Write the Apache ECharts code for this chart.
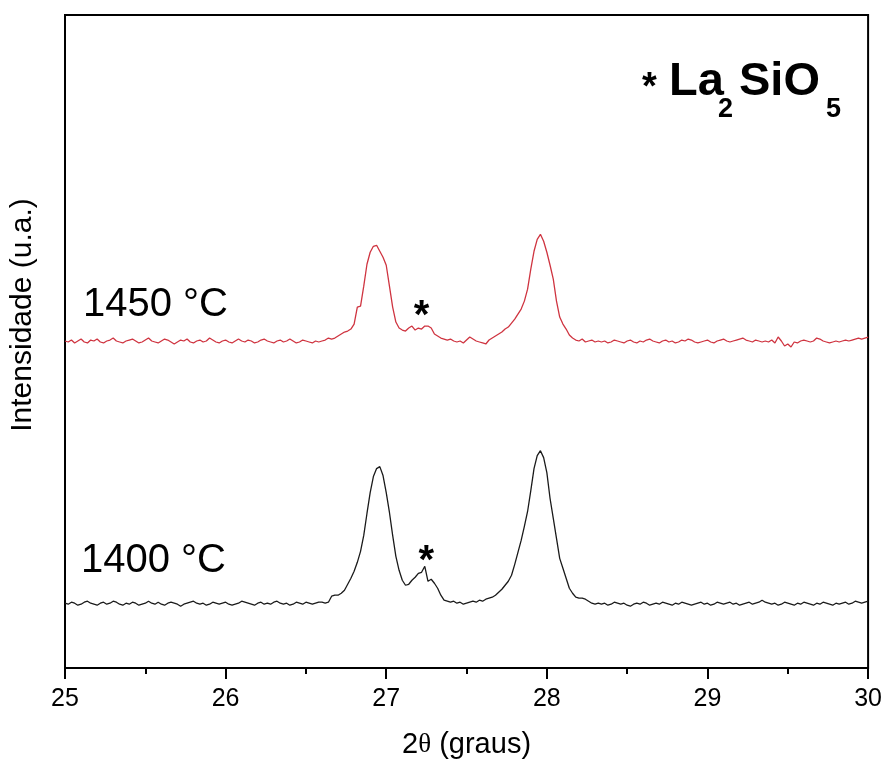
<!DOCTYPE html>
<html>
<head>
<meta charset="utf-8">
<title>DRX 1400 / 1450 °C</title>
<script src="https://cdn.jsdelivr.net/npm/echarts@6/dist/echarts.min.js"></script>
<style>
  html, body { margin: 0; padding: 0; background: #fff; }
  #chart { width: 885px; height: 764px; }
</style>
</head>
<body>
<div id="chart"></div>
<script>
// Scan grid: 2θ from 25° to 30° in steps of 0.02°
const scanStart = 25;
const scanStep = 0.02;

// Tick labels of the 2θ axis
const xTicks = [25, 26, 27, 28, 29, 30];

// Intensity (a.u.), 1400 °C pattern (lower trace, includes its vertical offset)
const int1400 = [
  65,64,66,65,63,64,66,67,65,64,
  63,65,66,64,65,67,66,64,63,65,
  64,66,65,63,64,65,67,65,64,66,
  64,63,65,66,65,64,62,64,65,66,
  67,65,64,65,63,64,66,65,64,65,
  66,64,63,64,65,67,66,65,64,63,
  65,66,64,65,64,66,67,65,64,65,
  63,64,66,65,64,66,65,64,65,66,
  // 26.60 – 28.34
  66,65,66,72,73,73,75,78,84,90,
  97,106,117,133,155,176,192,200,202,193,
  176,156,133,112,98,88,83,84,88,91,
  95,96,102,87,89,85,80,73,68,67,
  66,67,65,66,64,65,66,67,66,68,
  67,69,70,71,73,76,79,83,87,93,
  104,116,128,142,157,178,200,213,218,211,
  196,170,150,130,110,100,90,80,75,71,
  70,70,69,67,65,64,65,64,
  // 28.36 – 30.00
  65,63,64,66,65,64,65,63,62,64,
  65,64,66,65,63,64,65,64,66,65,
  64,63,65,64,66,65,64,63,64,65,
  66,64,65,63,64,66,65,64,65,66,
  64,65,63,64,65,66,64,65,66,68,
  66,65,64,65,63,64,66,65,64,63,
  65,64,66,65,64,63,65,64,66,65,
  64,63,65,64,65,66,64,65,67,66,
  65,66,67
];

// Intensity (a.u.), 1450 °C pattern (upper trace, includes its vertical offset)
const int1450 = [
  328,327,329,326,328,330,327,326,329,328,
  330,327,326,328,329,331,328,327,326,328,
  329,330,328,326,327,329,331,328,327,326,
  328,330,329,327,325,327,329,328,330,327,
  326,328,329,327,328,331,329,327,326,328,
  329,327,326,328,330,328,327,329,328,326,
  327,329,330,328,327,326,328,329,327,328,
  330,328,326,327,329,328,327,326,328,327,
  // 26.60 – 28.34
  328,329,331,330,331,333,335,337,338,340,
  345,362,363,383,405,417,423,424,418,412,
  404,383,362,347,341,339,338,341,343,339,
  341,340,343,343,341,335,333,331,330,329,
  330,328,327,328,326,329,332,330,328,327,
  326,325,329,331,333,335,337,340,342,346,
  350,355,360,368,380,400,418,430,435,428,
  417,404,390,368,352,345,340,334,331,329,
  328,330,327,328,329,327,328,327,
  // 28.36 – 30.00
  328,326,327,329,328,327,326,328,329,327,
  326,328,327,329,330,328,327,326,328,329,
  327,328,326,327,329,328,330,329,327,326,
  327,328,329,327,326,328,329,330,328,327,
  328,329,330,331,329,328,327,329,328,327,
  328,327,329,326,332,328,323,325,322,327,
  326,328,329,328,327,328,331,330,328,327,
  326,327,328,327,328,329,328,329,330,331,
  330,331,332
];

// La2SiO5 reflections marked with an asterisk: [2θ, intensity]
const marks1400 = [[27.25, 102]];
const marks1450 = [[27.22, 343]];

function toPairs(values) {
  return values.map((v, i) => [+(scanStart + i * scanStep).toFixed(2), v]);
}

const FONT = "'Liberation Sans', Arial, sans-serif";

const chart = echarts.init(document.getElementById('chart'), null, { renderer: 'canvas' });

// asterisk drawn just above a La2SiO5 reflection
function starMark(points, offsetY) {
  return {
    silent: true,
    symbol: 'circle',
    symbolSize: 1,
    itemStyle: { color: 'rgba(0,0,0,0)' },
    data: points.map(p => ({ coord: p })),
    label: {
      show: true,
      formatter: '*',
      position: 'inside',
      offset: [0, offsetY],
      color: '#000',
      fontFamily: FONT,
      fontWeight: 'bold',
      fontSize: 40
    }
  };
}

chart.setOption({
  animation: false,
  backgroundColor: '#fff',
  grid: {
    left: 65, right: 15, top: 15, bottom: 94,
    show: true,
    borderColor: '#000',
    borderWidth: 2,
    containLabel: false
  },
  xAxis: {
    type: 'value',
    min: xTicks[0],
    max: xTicks[xTicks.length - 1],
    interval: 1,
    name: '2{t|θ} (graus)',
    nameLocation: 'middle',
    nameGap: 62,
    nameTextStyle: {
      fontFamily: FONT, fontSize: 29, color: '#000',
      rich: { t: { fontFamily: "'Liberation Serif', serif", fontSize: 27, color: '#000' } }
    },
    axisLine: { show: true, onZero: false, lineStyle: { color: '#000', width: 2 } },
    axisTick: { show: true, inside: false, length: 11, lineStyle: { color: '#000', width: 2 } },
    minorTick: { show: true, splitNumber: 2, length: 6, lineStyle: { color: '#000', width: 2 } },
    axisLabel: { show: true, margin: 19, fontFamily: FONT, fontSize: 25, color: '#000' },
    splitLine: { show: false },
    minorSplitLine: { show: false }
  },
  yAxis: {
    type: 'value',
    min: 0,
    max: 655,
    axisLine: { show: false },
    axisTick: { show: false },
    axisLabel: { show: false },
    splitLine: { show: false }
  },
  series: [
    {
      name: '1400 °C',
      type: 'line',
      data: toPairs(int1400),
      showSymbol: false,
      lineStyle: { color: '#1a1a1a', width: 1.3 },
      markPoint: starMark(marks1400, -4)
    },
    {
      name: '1450 °C',
      type: 'line',
      data: toPairs(int1450),
      showSymbol: false,
      lineStyle: { color: '#cf3440', width: 1.3 },
      markPoint: starMark(marks1450, -9)
    }
  ],
  graphic: [
    // y-axis title
    {
      type: 'text', x: 23, y: 315, rotation: Math.PI / 2,
      style: { text: 'Intensidade (u.a.)', font: "30px " + FONT, fill: '#000', align: 'center', verticalAlign: 'middle' }
    },
    // temperature labels
    { type: 'text', left: 83, top: 285, style: { text: '1450 °C', font: "40px " + FONT, fill: '#000' } },
    { type: 'text', left: 81, top: 541, style: { text: '1400 °C', font: "40px " + FONT, fill: '#000' } },
    // phase legend: * La2SiO5
    { type: 'text', left: 642, top: 70, style: { text: '*', font: "bold 38px " + FONT, fill: '#000' } },
    { type: 'text', left: 669, top: 59, style: { text: 'La', font: "bold 47px " + FONT, fill: '#000' } },
    { type: 'text', left: 718, top: 96, style: { text: '2', font: "bold 27px " + FONT, fill: '#000' } },
    { type: 'text', left: 739, top: 59, style: { text: 'SiO', font: "bold 47px " + FONT, fill: '#000' } },
    { type: 'text', left: 826, top: 96, style: { text: '5', font: "bold 27px " + FONT, fill: '#000' } }
  ]
});
</script>
</body>
</html>
